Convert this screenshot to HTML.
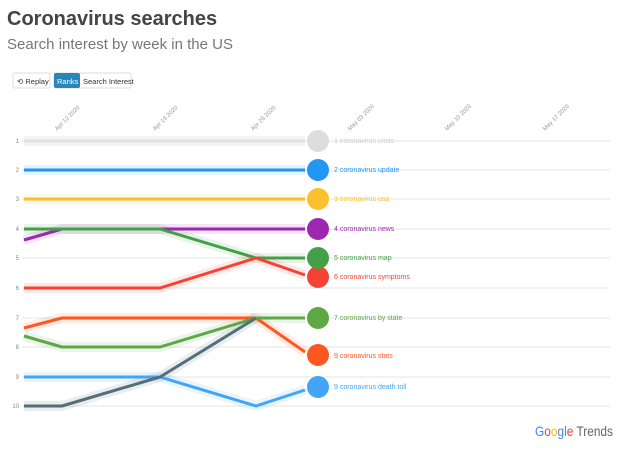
<!DOCTYPE html>
<html><head><style>
body{margin:0;background:#fff;width:620px;height:449px;overflow:hidden;font-family:"Liberation Sans",sans-serif}
</style></head><body>
<svg width="620" height="449" xmlns="http://www.w3.org/2000/svg" font-family="Liberation Sans, sans-serif">
<rect width="620" height="449" fill="#fff"/>
<text x="7" y="25" font-size="20" font-weight="bold" fill="#444">Coronavirus searches</text>
<text x="7" y="49" font-size="15" fill="#777">Search interest by week in the US</text>
<rect x="13" y="73" width="37" height="15" rx="2" fill="#fff" stroke="#ddd"/>
<text x="17" y="84" font-size="7.5" fill="#333">⟲ Replay</text>
<rect x="54" y="73" width="77" height="15" rx="2" fill="#fff" stroke="#ddd"/>
<rect x="54" y="73" width="26" height="15" rx="2" fill="#2a86b8"/>
<text x="57" y="84" font-size="7.5" fill="#fff">Ranks</text>
<text x="83" y="84" font-size="7.5" fill="#333">Search Interest</text>
<g font-size="6" fill="#999">
<text transform="translate(57,131) rotate(-45)">Apr 12 2020</text>
<text transform="translate(155,131) rotate(-45)">Apr 19 2020</text>
<text transform="translate(253,131) rotate(-45)">Apr 26 2020</text>
<text transform="translate(350,131) rotate(-45)">May 03 2020</text>
<text transform="translate(447,131) rotate(-45)">May 10 2020</text>
<text transform="translate(545,131) rotate(-45)">May 17 2020</text>
</g>
<g stroke="#e6e6e6" stroke-width="1">
<line x1="22" y1="141" x2="610" y2="141"/><line x1="22" y1="170" x2="610" y2="170"/>
<line x1="22" y1="199" x2="610" y2="199"/><line x1="22" y1="229" x2="610" y2="229"/>
<line x1="22" y1="258" x2="610" y2="258"/><line x1="22" y1="288" x2="610" y2="288"/>
<line x1="22" y1="318" x2="610" y2="318"/><line x1="22" y1="347" x2="610" y2="347"/>
<line x1="22" y1="377" x2="610" y2="377"/><line x1="22" y1="406" x2="610" y2="406"/>
</g>
<g font-size="6" fill="#888" text-anchor="end">
<text x="19" y="143">1</text><text x="19" y="172">2</text><text x="19" y="201">3</text>
<text x="19" y="231">4</text><text x="19" y="260">5</text><text x="19" y="290">6</text>
<text x="19" y="320">7</text><text x="19" y="349">8</text><text x="19" y="379">9</text>
<text x="19" y="408">10</text>
</g>
<g fill="none" stroke-linejoin="round" stroke-width="3">
<g stroke-width="10" stroke-opacity="0.12">
<polyline stroke="#999" points="24,141 305,141"/>
<polyline stroke="#2196f3" points="24,170 305,170"/>
<polyline stroke="#fbc02d" points="24,199 305,199"/>
<polyline stroke="#9c27b0" points="24,240 62,229 305,229"/>
<polyline stroke="#43a047" points="24,229 160,229 256,258 305,258"/>
<polyline stroke="#f44336" points="24,288 160,288 256,258 305,275"/>
<polyline stroke="#ff5722" points="24,328 62,318 256,318 305,352"/>
<polyline stroke="#4caf50" points="24,336 62,347 160,347 256,318 305,318"/>
<polyline stroke="#42a5f5" points="24,377 160,377 256,406 305,390"/>
<polyline stroke="#546e7a" points="24,406 62,406 160,377 256,318"/>
</g>
<polyline stroke="#e0e0e0" points="24,141 305,141"/>
<polyline stroke="#2196f3" points="24,170 305,170"/>
<polyline stroke="#fbc02d" points="24,199 305,199"/>
<polyline stroke="#9c27b0" points="24,240 62,229 305,229"/>
<polyline stroke="#43a047" points="24,229 160,229 256,258 305,258"/>
<polyline stroke="#f44336" points="24,288 160,288 256,258 305,275"/>
<polyline stroke="#ff5722" points="24,328 62,318 256,318 305,352"/>
<polyline stroke="#5fa645" points="24,336 62,347 160,347 256,318 305,318"/>
<polyline stroke="#42a5f5" points="24,377 160,377 256,406 305,390"/>
<polyline stroke="#546e7a" points="24,406 62,406 160,377 256,318"/>
</g>
<g>
<circle cx="318" cy="141" r="11" fill="#dddddd"/>
<circle cx="318" cy="170" r="11" fill="#2196f3"/>
<circle cx="318" cy="199" r="11" fill="#fbc02d"/>
<circle cx="318" cy="229" r="11" fill="#9c27b0"/>
<circle cx="318" cy="277" r="11" fill="#f44336"/>
<circle cx="318" cy="258" r="11" fill="#43a047"/>
<circle cx="318" cy="318" r="11" fill="#5fa645"/>
<circle cx="318" cy="355" r="11" fill="#ff5722"/>
<circle cx="318" cy="387" r="11" fill="#42a5f5"/>
</g>
<g font-size="7">
<text x="334" y="143" fill="#ccc">1 coronavirus crisis</text>
<text x="334" y="172" fill="#2196f3">2 coronavirus update</text>
<text x="334" y="201" fill="#fbc02d">3 coronavirus usa</text>
<text x="334" y="231" fill="#9c27b0">4 coronavirus news</text>
<text x="334" y="260" fill="#43a047">5 coronavirus map</text>
<text x="334" y="279" fill="#f44336">6 coronavirus symptoms</text>
<text x="334" y="320" fill="#5fa645">7 coronavirus by state</text>
<text x="334" y="358" fill="#ff5722">9 coronavirus stats</text>
<text x="334" y="389" fill="#42a5f5">9 coronavirus death toll</text>
</g>
<text x="535" y="436" font-size="14" textLength="78" lengthAdjust="spacingAndGlyphs"><tspan fill="#4285f4">G</tspan><tspan fill="#ea4335">o</tspan><tspan fill="#fbbc05">o</tspan><tspan fill="#4285f4">g</tspan><tspan fill="#34a853">l</tspan><tspan fill="#ea4335">e</tspan><tspan fill="#666"> Trends</tspan></text>
</svg>
</body></html>
